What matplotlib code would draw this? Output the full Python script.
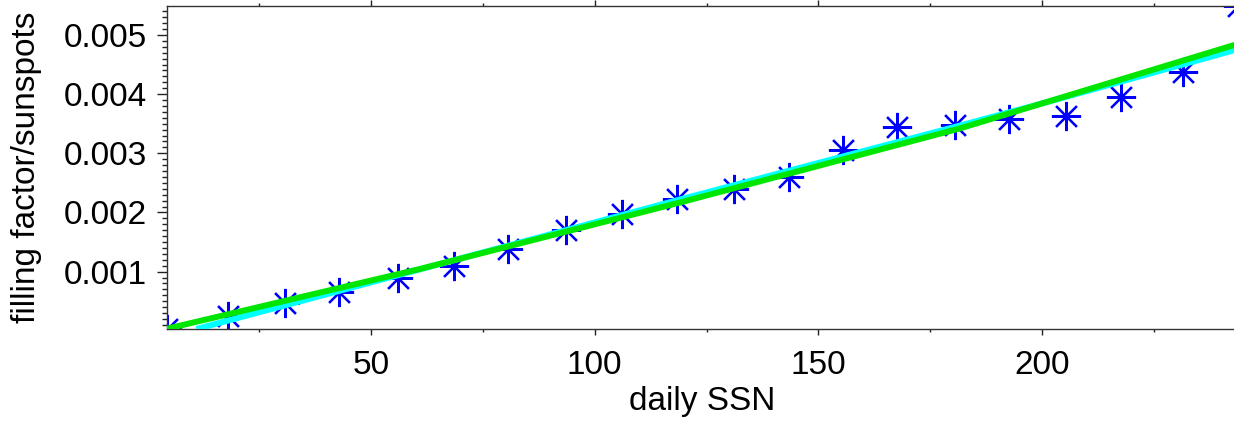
import matplotlib
matplotlib.use("Agg")
import matplotlib.pyplot as plt
from matplotlib.ticker import MultipleLocator, FormatStrFormatter

# -----------------------------
# data
# -----------------------------
ssn = [4.4, 18.0, 30.8, 42.9, 56.0, 68.6, 80.7, 93.6, 106.1, 118.4,
       131.2, 143.5, 155.5, 167.5, 180.6, 192.6, 205.4, 217.7, 231.5, 243.8]
ff = [0.000030, 0.000252, 0.000466, 0.000652, 0.000899, 0.001096, 0.001378,
      0.001704, 0.001970, 0.002228, 0.002397, 0.002605, 0.003056, 0.003449,
      0.003478, 0.003574, 0.003630, 0.003946, 0.004368, 0.005490]

# fit curves
cyan_x = [11.0, 61.0, 119.1, 181.7, 201.8, 243.8]
cyan_y = [0.00003, 0.00104, 0.00222, 0.00347, 0.00388, 0.00476]
green_x = [4.4, 61.0, 119.1, 181.7, 243.8]
green_y = [0.000035, 0.001046, 0.002169, 0.003422, 0.004850]

plt.rcParams["font.family"] = ["Liberation Sans", "DejaVu Sans"]
FS = 24

W, H = 1234, 421
fig = plt.figure(figsize=(W / 100, H / 100), dpi=100)
# axes runs slightly past the right edge of the picture, like the original
ax = fig.add_axes([167 / W, (H - 329) / H, (1238 - 167) / W, (329 - 6) / H])

ax.plot(ssn, ff, linestyle="none", marker=(8, 2, 0), markersize=21,
        markeredgewidth=1.6, color="#0000ff", zorder=2)
ax.plot(cyan_x, cyan_y, color="#00ffff", linewidth=4.3, zorder=3,
        solid_capstyle="butt")
ax.plot(green_x, green_y, color="#00e600", linewidth=4.3, zorder=4,
        solid_capstyle="butt")

ax.set_xlim(ssn[0], ssn[-1])
ax.set_ylim(ff[0], ff[-1])

ax.xaxis.set_major_locator(MultipleLocator(50))
ax.xaxis.set_minor_locator(MultipleLocator(25))
ax.yaxis.set_major_locator(MultipleLocator(0.001))
ax.yaxis.set_minor_locator(MultipleLocator(0.0001))
ax.yaxis.set_major_formatter(FormatStrFormatter("%.3f"))

for s in ax.spines.values():
    s.set_linewidth(1.0)
    s.set_color("#333333")

ax.tick_params(axis="x", which="major", direction="out", length=4.3, width=1.0,
               pad=11, labelsize=FS, top=True, color="#222222")
ax.tick_params(axis="x", which="minor", direction="out", length=2.2, width=1.0,
               top=True, color="#222222")
ax.tick_params(axis="y", which="major", direction="out", length=7.2, width=1.0,
               pad=7, labelsize=FS, right=True, color="#222222")
ax.tick_params(axis="y", which="minor", direction="out", length=3.6, width=1.0,
               right=True, color="#222222")

ax.set_xlabel("daily SSN", fontsize=FS)
ax.set_ylabel("filling factor/sunspots", fontsize=FS)
ax.xaxis.set_label_coords(0.5, -0.175)
ax.yaxis.set_label_coords(-0.117, 0.5)

fig.savefig("out.png", dpi=100)
